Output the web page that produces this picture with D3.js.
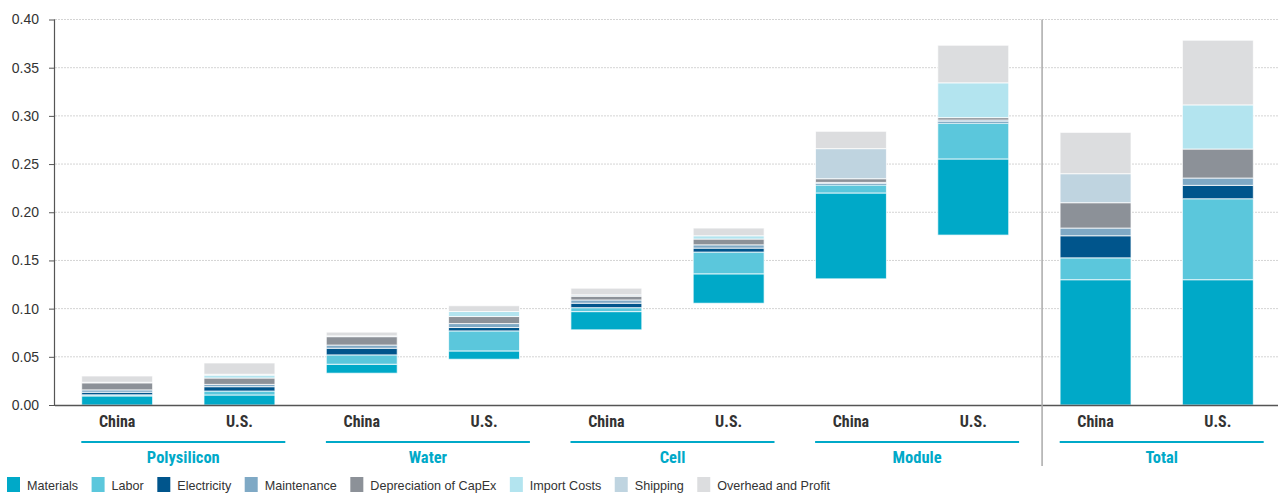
<!DOCTYPE html>
<html>
<head>
<meta charset="utf-8">
<script src="https://cdn.jsdelivr.net/npm/d3@7"></script>
<style>
  html, body { margin: 0; padding: 0; background: #fff; }
  svg { display: block; }
</style>
</head>
<body>
<svg id="chart" width="1278" height="494"></svg>
<script>
// ---------- data ----------
const bars = ["Polysilicon China","Polysilicon U.S.","Water China","Water U.S.","Cell China","Cell U.S.","Module China","Module U.S.","Total China","Total U.S."];
const barLabels = ["China","U.S.","China","U.S.","China","U.S.","China","U.S.","China","U.S."];
const groups = ["Polysilicon","Water","Cell","Module","Total"];
const seriesNames = ["Materials","Labor","Electricity","Maintenance","Depreciation of CapEx","Import Costs","Shipping","Overhead and Profit"];
const seriesColors = ["#00a9c8","#5bc7dc","#00558c","#7fa9c5","#8c9198","#b3e4ef","#bfd4e0","#dcdddf"];
// invisible waterfall base of each bar
const base        = [0, 0, 0.0330, 0.0475, 0.0780, 0.1056, 0.1309, 0.1763, 0, 0];
const materials   = [0.0094, 0.0104, 0.0093, 0.0086, 0.0189, 0.0305, 0.0891, 0.0790, 0.1300, 0.1300];
const labor       = [0.0012, 0.0041, 0.0097, 0.0208, 0.0041, 0.0226, 0.0083, 0.0371, 0.0227, 0.0840];
const electricity = [0.0026, 0.0045, 0.0069, 0.0035, 0.0046, 0.0041, 0.0014, 0.0015, 0.0229, 0.0139];
const maintenance = [0.0025, 0.0024, 0.0033, 0.0041, 0.0034, 0.0034, 0.0013, 0.0018, 0.0080, 0.0076];
const depreciation= [0.0073, 0.0066, 0.0087, 0.0073, 0.0039, 0.0060, 0.0038, 0.0025, 0.0263, 0.0301];
const importCosts = [0, 0.0030, 0, 0.0052, 0, 0.0034, 0, 0.0361, 0, 0.0458];
const shipping    = [0.0006, 0.0009, 0.0008, 0, 0.0014, 0, 0.0312, 0, 0.0301, 0];
const overhead    = [0.0065, 0.0117, 0.0039, 0.0060, 0.0069, 0.0080, 0.0180, 0.0390, 0.0429, 0.0671];
const yTicks = [0, 0.05, 0.10, 0.15, 0.20, 0.25, 0.30, 0.35, 0.40];

const seriesValues = [materials, labor, electricity, maintenance, depreciation, importCosts, shipping, overhead];

// ---------- layout ----------
const svg = d3.select("#chart");
const plotLeft = 55, plotRight = 1278, plotTop = 19.5, plotBottom = 405;
const condensed = "'Liberation Sans Narrow','Roboto Condensed','DejaVu Sans Condensed',sans-serif";
const regular = "'Liberation Sans',Arial,sans-serif";

const x = d3.scaleBand().domain(bars).range([plotLeft + 1, plotRight + 1]).paddingInner(0.42).paddingOuter(0.21);
const y = d3.scaleLinear().domain([0, 0.4]).range([plotBottom, plotTop]);

// gridlines
svg.append("g").selectAll("line").data(yTicks.filter(d => d > 0)).join("line")
  .attr("x1", plotLeft).attr("x2", plotRight)
  .attr("y1", d => y(d)).attr("y2", d => y(d))
  .attr("stroke", "#d4d4d4").attr("stroke-width", 1).attr("stroke-dasharray", "2,1");

// y axis
const yAxis = svg.append("g").attr("transform", `translate(${plotLeft},0)`)
  .call(d3.axisLeft(y).tickValues(yTicks).tickFormat(d3.format(".2f")).tickSize(6).tickPadding(10));
yAxis.select(".domain").attr("stroke", "#555").attr("stroke-width", 1.2).attr("d", `M-0.5,${y(0)}V${y(0.4)}`);
yAxis.selectAll(".tick line").attr("stroke", "#555");
yAxis.selectAll(".tick text").attr("font-family", regular).attr("font-size", 14).attr("fill", "#333");

// stacked segments
const rows = bars.map((b, i) => {
  const r = { bar: b, base: base[i] };
  seriesNames.forEach((s, k) => r[s] = seriesValues[k][i]);
  return r;
});
const stack = d3.stack().keys(seriesNames).offset((series, order) => {
  for (let j = 0; j < series[0].length; j++) {
    let acc = rows[j].base;
    for (const k of order) { const s = series[k][j]; const v = s[1] - s[0]; s[0] = acc; s[1] = acc + v; acc += v; }
  }
});
const stacked = stack(rows);
svg.append("g").selectAll("g").data(stacked).join("g")
  .attr("fill", (d, i) => seriesColors[i])
  .selectAll("rect").data(d => d.filter(p => p[1] - p[0] > 0)).join("rect")
  .attr("x", d => x(d.data.bar))
  .attr("width", x.bandwidth())
  .attr("y", d => y(d[1]))
  .attr("height", d => y(d[0]) - y(d[1]))
  .attr("stroke", "#ffffff").attr("stroke-opacity", 0.75).attr("stroke-width", 1);

// x axis line
svg.append("line").attr("x1", plotLeft).attr("x2", plotRight).attr("y1", plotBottom + 0.5).attr("y2", plotBottom + 0.5)
  .attr("stroke", "#555").attr("stroke-width", 1.5);

// separator
const sepX = x("Total China") - 18;
svg.append("line").attr("x1", sepX).attr("x2", sepX).attr("y1", plotTop).attr("y2", 466)
  .attr("stroke", "#aaa").attr("stroke-width", 1.5);

// bar labels
svg.append("g").selectAll("text").data(bars).join("text")
  .attr("x", d => x(d) + x.bandwidth() / 2).attr("y", 427)
  .attr("text-anchor", "middle").attr("font-family", condensed).attr("font-weight", "bold")
  .attr("font-size", 16).attr("fill", "#333")
  .text((d, i) => barLabels[i]);

// group lines and labels
groups.forEach((g, i) => {
  const c1 = x(bars[2 * i]) + x.bandwidth() / 2, c2 = x(bars[2 * i + 1]) + x.bandwidth() / 2;
  const mid = (c1 + c2) / 2;
  svg.append("line").attr("x1", mid - 97).attr("x2", mid + 107).attr("y1", 442).attr("y2", 442)
    .attr("stroke", "#00a9c8").attr("stroke-width", 2);
  svg.append("text").attr("x", mid + 5).attr("y", 463).attr("text-anchor", "middle")
    .attr("font-family", condensed).attr("font-weight", "bold").attr("font-size", 16.5)
    .attr("fill", "#00a9c8").text(g);
});

// legend
const lg = svg.append("g").attr("transform", "translate(7,477)");
let lx = 0;
seriesNames.forEach((s, i) => {
  const item = lg.append("g").attr("transform", `translate(${lx},0)`);
  item.append("rect").attr("width", 13).attr("height", 15).attr("fill", seriesColors[i]);
  const t = item.append("text").attr("x", 20).attr("y", 12.5).attr("font-family", regular)
    .attr("font-size", 12.6).attr("fill", "#333").text(s);
  lx += 20 + t.node().getComputedTextLength() + 13.5;
});
</script>
</body>
</html>
